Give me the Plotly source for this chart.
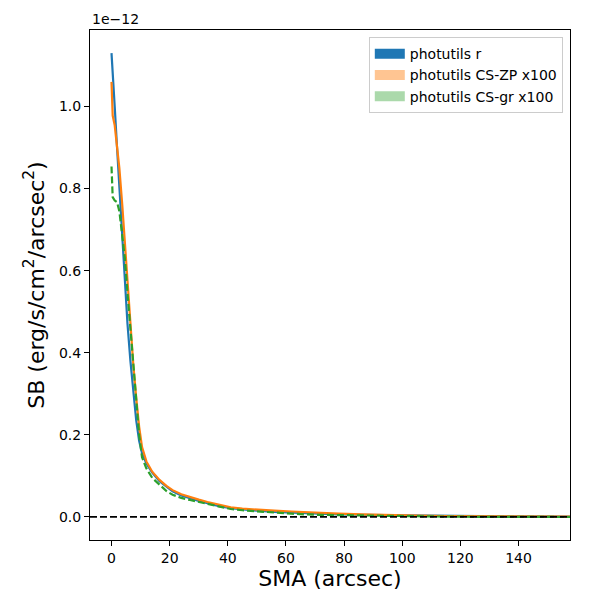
import plotly.graph_objects as go

# surface brightness profiles, in units of 1e-12 erg/s/cm^2/arcsec^2
sma = [0, 0.4, 1.1, 1.9, 2.7, 3.7, 4.6, 5.5, 6.5, 7.5, 8.5, 9.5, 10.5, 12, 14,
       16.5, 19, 21, 24, 27, 30, 33, 37, 41, 45, 50, 56, 62, 70, 78, 86, 95,
       105, 115, 127, 140, 150, 160]

sb_r = [1.13, 1.09, 1.00, 0.90, 0.80, 0.67, 0.56, 0.47, 0.38, 0.30, 0.235,
        0.185, 0.155, 0.13, 0.108, 0.087, 0.072, 0.062, 0.052, 0.045, 0.039,
        0.033, 0.026, 0.021, 0.018, 0.015, 0.012, 0.010, 0.008, 0.006, 0.005,
        0.004, 0.003, 0.002, 0.0015, 0.001, 0.001, 0.0008]

sb_cs_zp = [1.06, 0.978, 0.954, 0.90, 0.85, 0.76, 0.665, 0.565, 0.46, 0.37,
            0.29, 0.22, 0.17, 0.135, 0.11, 0.09, 0.075, 0.065, 0.055, 0.048,
            0.042, 0.036, 0.029, 0.023, 0.020, 0.017, 0.015, 0.013, 0.010,
            0.008, 0.006, 0.004, 0.003, 0.002, 0.001, 0.001, 0.0005, 0.0003]

sb_cs_gr = [0.854, 0.779, 0.771, 0.767, 0.745, 0.69, 0.63, 0.545, 0.455, 0.365,
            0.28, 0.20, 0.145, 0.118, 0.095, 0.078, 0.062, 0.054, 0.046, 0.041,
            0.036, 0.031, 0.024, 0.019, 0.016, 0.013, 0.010, 0.0075, 0.005,
            0.004, 0.003, 0.002, 0.001, 0.0005, 0.0, -0.0005, -0.0005, -0.0005]

y_ticks = [0.0, 0.2, 0.4, 0.6, 0.8, 1.0]
x_ticks = [0, 20, 40, 60, 80, 100, 120, 140]

BLUE, ORANGE, GREEN = '#1f77b4', '#ff7f0e', '#2ca02c'
FONT = 'DejaVu Sans'
DASH = '7px,3px'

fig = go.Figure()

fig.add_trace(go.Scatter(x=sma, y=sb_r, mode='lines', showlegend=False,
                         line=dict(color=BLUE, width=2.2)))
fig.add_trace(go.Scatter(x=sma, y=sb_cs_zp, mode='lines', showlegend=False,
                         line=dict(color=ORANGE, width=2.2)))
fig.add_trace(go.Scatter(x=sma, y=sb_cs_gr, mode='lines', showlegend=False,
                         line=dict(color=GREEN, width=2.2, dash=DASH)))

# legend patches (matplotlib-style filled boxes)
for name, col in [('photutils r', BLUE),
                  ('photutils CS-ZP x100', 'rgba(255,127,14,0.45)'),
                  ('photutils CS-gr x100', 'rgba(44,160,44,0.4)')]:
    fig.add_trace(go.Scatter(x=[None], y=[None], mode='lines', name=name,
                             line=dict(color=col, width=12)))

fig.add_hline(y=0, line=dict(color='black', width=1.8, dash=DASH))

axis_common = dict(showline=True, linecolor='black', linewidth=1, mirror=True,
                   ticks='outside', ticklen=5, tickcolor='black', showgrid=False,
                   zeroline=False, tickfont=dict(size=14, color='black'))

fig.update_xaxes(range=[-7.4, 157.7], tickvals=x_ticks,
                 title=dict(text='SMA (arcsec)', font=dict(size=22, color='black'),
                            standoff=5),
                 **axis_common)
fig.update_yaxes(range=[-0.0565, 1.1865], tickvals=y_ticks,
                 ticktext=['%.1f' % v for v in y_ticks],
                 title=dict(text='SB (erg/s/cm<sup>2</sup>/arcsec<sup>2</sup>)',
                            font=dict(size=22, color='black'), standoff=8),
                 **axis_common)

fig.add_annotation(text='1e\u221212', xref='paper', yref='paper', x=0, y=1,
                   xanchor='left', yanchor='bottom', showarrow=False,
                   yshift=1, font=dict(size=14, color='black'))

# body of the page has an 8px margin, so the plot box is shifted back by 8px
fig.update_layout(
    width=600, height=600,
    margin=dict(l=82, r=38, t=22, b=68),
    plot_bgcolor='white', paper_bgcolor='white',
    font=dict(family=FONT, color='black'),
    legend=dict(x=0.985, y=0.986, xanchor='right', yanchor='top',
                bgcolor='rgba(255,255,255,0.8)', bordercolor='#cccccc',
                borderwidth=1, font=dict(size=14), tracegroupgap=0),
)

fig.write_html('out.html')
